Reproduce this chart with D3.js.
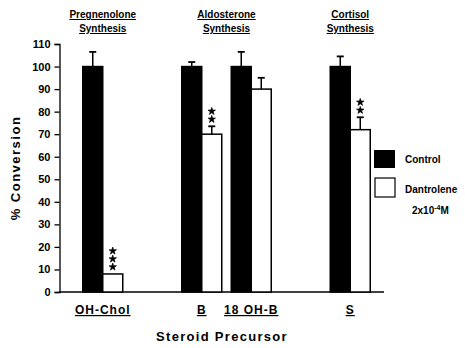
<!DOCTYPE html>
<html>
<head>
<meta charset="utf-8">
<script src="https://cdn.jsdelivr.net/npm/d3@7"></script>
<style>
  body { margin: 0; background: #fff; }
  svg text { font-family: "Liberation Sans", Arial, sans-serif; font-weight: bold; fill: #000; }
</style>
</head>
<body>
<script>
// data
var precursors = ['OH-Chol', 'B', '18 OH-B', 'S'];
var control = [100, 100, 100, 100];
var controlErr = [6.5, 2, 6.5, 4.5];
var dantrolene = [8, 70, 90, 72];
var dantroleneErr = [0, 3.5, 5, 5.5];
var stars = [3, 2, 0, 2];
var yTicks = [0, 10, 20, 30, 40, 50, 60, 70, 80, 90, 100, 110];
var groups = [
  { lines: ['Pregnenolone', 'Synthesis'], at: ['OH-Chol'] },
  { lines: ['Aldosterone', 'Synthesis'], at: ['B', '18 OH-B'] },
  { lines: ['Cortisol', 'Synthesis'], at: ['S'] }
];

var W = 465, H = 348;
var svg = d3.select('body').append('svg')
    .attr('width', W)
    .attr('height', H);

// spacer slots keep the uneven gaps between precursors
var slots = ['OH-Chol', 'gap1', 'B', '18 OH-B', 'gap2', 'S'];
var x = d3.scaleBand().domain(slots).range([78, 375]);
var sub = d3.scaleBand().domain(['control', 'dantrolene'])
    .range([(x.bandwidth() - 40) / 2, (x.bandwidth() + 40) / 2]);
var y = d3.scaleLinear().domain([0, 110]).range([292, 44]);

var rows = precursors.map(function(p, i) {
  return { name: p, vals: [
    { key: 'control', v: control[i], e: controlErr[i], s: 0 },
    { key: 'dantrolene', v: dantrolene[i], e: dantroleneErr[i], s: stars[i] }
  ]};
});

// y axis
var yAxis = d3.axisLeft(y).tickValues(yTicks).tickSize(5).tickPadding(4);
var gy = svg.append('g')
    .attr('transform', 'translate(59.5,0)')
    .call(yAxis);
gy.selectAll('path, line').attr('stroke', '#000').attr('stroke-width', 1.3);
gy.selectAll('text').style('font-size', '11px');

// baseline
svg.append('line')
    .attr('x1', 59).attr('x2', 384)
    .attr('y1', y(0)).attr('y2', y(0))
    .attr('stroke', '#000').attr('stroke-width', 1.5);

var g = svg.selectAll('g.grp').data(rows).enter().append('g')
    .attr('class', 'grp')
    .attr('transform', function(d) { return 'translate(' + x(d.name) + ',0)'; });

var bar = g.selectAll('g.bar').data(function(d) { return d.vals; }).enter().append('g')
    .attr('class', 'bar');

bar.append('rect')
    .attr('x', function(d) { return sub(d.key); })
    .attr('y', function(d) { return y(d.v); })
    .attr('width', sub.bandwidth())
    .attr('height', function(d) { return y(0) - y(d.v); })
    .attr('fill', function(d) { return d.key == 'control' ? '#000' : '#fff'; })
    .attr('stroke', '#000')
    .attr('stroke-width', 1.5);

// error bars, upper half only
var eb = bar.filter(function(d) { return d.e > 0; });
eb.append('line')
    .attr('x1', function(d) { return sub(d.key) + sub.bandwidth() / 2; })
    .attr('x2', function(d) { return sub(d.key) + sub.bandwidth() / 2; })
    .attr('y1', function(d) { return y(d.v); })
    .attr('y2', function(d) { return y(d.v + d.e); })
    .attr('stroke', '#000').attr('stroke-width', 1.5);
eb.append('line')
    .attr('x1', function(d) { return sub(d.key) + sub.bandwidth() / 2 - 3.5; })
    .attr('x2', function(d) { return sub(d.key) + sub.bandwidth() / 2 + 3.5; })
    .attr('y1', function(d) { return y(d.v + d.e); })
    .attr('y2', function(d) { return y(d.v + d.e); })
    .attr('stroke', '#000').attr('stroke-width', 1.8);

// significance marks
var star = d3.symbol().type(d3.symbolStar).size(17);
bar.each(function(d) {
  var cx = sub(d.key) + sub.bandwidth() / 2;
  var top = y(d.v + d.e) - 7;
  for (var k = 0; k < d.s; k++) {
    d3.select(this).append('path')
        .attr('d', star)
        .attr('transform', 'translate(' + cx + ',' + (top - k * 8) + ')')
        .attr('fill', '#000')
        .attr('stroke', '#000')
        .attr('stroke-width', 0.7);
  }
});

// precursor labels (underlined)
svg.selectAll('text.xl').data(precursors).enter().append('text')
    .attr('class', 'xl')
    .attr('x', function(d) { return x(d) + x.bandwidth() / 2; })
    .attr('y', 314)
    .attr('text-anchor', 'middle')
    .style('font-size', '12px')
    .style('letter-spacing', '1px')
    .style('text-decoration', 'underline')
    .text(function(d) { return d; });

// group titles
groups.forEach(function(gr) {
  var cx = d3.mean(gr.at, function(p) { return x(p) + x.bandwidth() / 2; });
  gr.lines.forEach(function(l, i) {
    svg.append('text')
        .attr('x', cx)
        .attr('y', 18 + i * 14)
        .attr('text-anchor', 'middle')
        .style('font-size', '10px')
        .style('text-decoration', 'underline')
        .text(l);
  });
});

// axis titles
svg.append('text')
    .attr('x', 222).attr('y', 341)
    .attr('text-anchor', 'middle')
    .style('font-size', '13px')
    .style('letter-spacing', '1.3px')
    .text('Steroid Precursor');
svg.append('text')
    .attr('transform', 'translate(20,168) rotate(-90)')
    .attr('text-anchor', 'middle')
    .style('font-size', '13px')
    .style('letter-spacing', '1.5px')
    .text('% Conversion');

// legend
var leg = svg.append('g').attr('transform', 'translate(374,150)');
leg.append('rect').attr('width', 21).attr('height', 18).attr('fill', '#000');
leg.append('text').attr('x', 31).attr('y', 13).style('font-size', '10px').text('Control');
leg.append('rect').attr('x', 1).attr('y', 28).attr('width', 20).attr('height', 19)
    .attr('fill', '#fff').attr('stroke', '#000').attr('stroke-width', 1.2);
leg.append('text').attr('x', 31).attr('y', 43).style('font-size', '10px').text('Dantrolene');
var conc = leg.append('text').attr('x', 38).attr('y', 64).style('font-size', '10px');
conc.append('tspan').text('2x10');
conc.append('tspan').attr('dy', -4).style('font-size', '7px').text('-4');
conc.append('tspan').attr('dy', 4).text('M');
</script>
</body>
</html>
